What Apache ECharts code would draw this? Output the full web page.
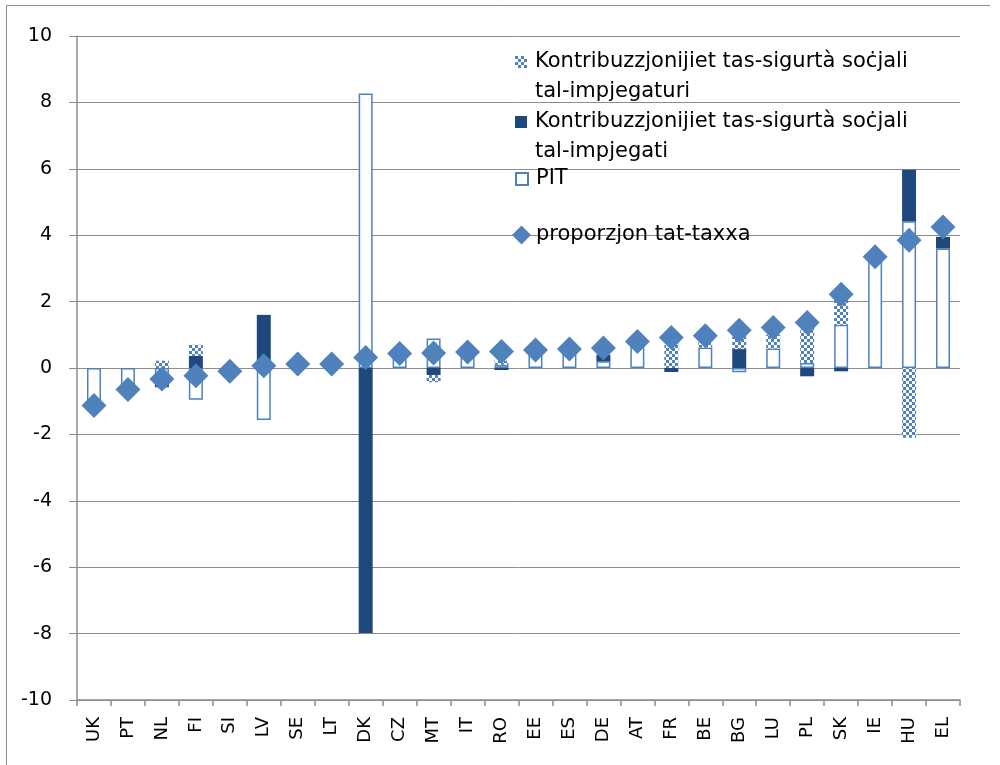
<!DOCTYPE html>
<html lang="mt">

<head>
    <meta charset="UTF-8">
    <title>Proporzjon tat-taxxa</title>
    <script src="https://cdn.jsdelivr.net/npm/echarts@6/dist/echarts.min.js"></script>
    <style>
        html, body { margin: 0; padding: 0; background: #fff; }
        #main { width: 1000px; height: 765px; }
    </style>
</head>

<body>
    <div id="main"></div>
    <script>
        // Data
        const categories = ['UK', 'PT', 'NL', 'FI', 'SI', 'LV', 'SE', 'LT', 'DK', 'CZ', 'MT', 'IT', 'RO',
            'EE', 'ES', 'DE', 'AT', 'FR', 'BE', 'BG', 'LU', 'PL', 'SK', 'IE', 'HU', 'EL'];
        const employerSSC = [0, 0, 0.22, 0.33, 0, 0, 0, 0, 0, 0, -0.22, 0, 0.12,
            0, 0, 0, 0, 0.85, 0.3, 0.38, 0.42, 1.15, 0.85, 0, -2.1, 0];
        const employeeSSC = [0, 0, -0.13, 0.37, 0, 1.6, 0, 0, -7.98, 0, -0.21, 0, -0.06,
            0, 0, 0.2, 0, -0.12, 0, 0.57, 0, -0.25, -0.1, 0, 1.55, 0.35];
        const pit = [-1.12, -0.63, -0.45, -0.96, -0.1, -1.57, 0.1, 0.1, 8.27, 0.4, 0.89, 0.45, 0.1,
            0.5, 0.5, 0.2, 0.75, 0, 0.62, -0.13, 0.59, 0.15, 1.3, 3.3, 4.42, 3.6];
        const taxRatio = [-1.13, -0.65, -0.33, -0.23, -0.1, 0.07, 0.12, 0.12, 0.32, 0.44, 0.45, 0.48, 0.5,
            0.54, 0.57, 0.6, 0.8, 0.92, 0.97, 1.14, 1.22, 1.37, 2.22, 3.35, 3.85, 4.25];

        const names = [
            'Kontribuzzjonijiet tas-sigurtà soċjali\ntal-impjegaturi',
            'Kontribuzzjonijiet tas-sigurtà soċjali\ntal-impjegati',
            'PIT',
            'proporzjon tat-taxxa'
        ];

        const blue = '#4F81BD';
        const navy = '#1F497D';
        const gridGrey = '#8C8C8C';

        // checkered fill for the employer contributions
        const tile = document.createElement('canvas');
        tile.width = 6;
        tile.height = 6;
        const ctx = tile.getContext('2d');
        ctx.fillStyle = '#ffffff';
        ctx.fillRect(0, 0, 6, 6);
        ctx.fillStyle = blue;
        ctx.fillRect(0, 0, 3, 3);
        ctx.fillRect(3, 3, 3, 3);
        const checkered = { image: tile, repeat: 'repeat' };

        const chart = echarts.init(document.getElementById('main'));

        const legendText = { fontFamily: 'DejaVu Sans', fontSize: 21, color: '#000', lineHeight: 30, padding: [0, 0, 0, 3] };
        // an empty first line keeps the icon level with the first line of a two-line name
        const twoLine = name => '\n' + name;

        const option = {
            animation: false,
            textStyle: { fontFamily: 'DejaVu Sans' },
            graphic: [
                { type: 'line', shape: { x1: 6.5, y1: 5.5, x2: 6.5, y2: 770 }, style: { stroke: gridGrey, lineWidth: 1 } },
                { type: 'line', shape: { x1: 6.5, y1: 5.5, x2: 990, y2: 5.5 }, style: { stroke: gridGrey, lineWidth: 1 } }
            ],
            legend: [
                {
                    data: [names[0]], left: 515, top: 17, padding: 0, itemWidth: 12, itemHeight: 12,
                    icon: 'rect', selectedMode: false, formatter: twoLine, textStyle: legendText
                },
                {
                    data: [names[1]], left: 515, top: 77, padding: 0, itemWidth: 12, itemHeight: 12,
                    icon: 'rect', selectedMode: false, formatter: twoLine, textStyle: legendText
                },
                {
                    data: [names[2]], left: 515, top: 164, padding: 0, itemWidth: 12, itemHeight: 12,
                    icon: 'rect', selectedMode: false, textStyle: legendText
                },
                {
                    data: [names[3]], left: 512, top: 220, padding: 0, itemWidth: 19, itemHeight: 19,
                    selectedMode: false, textStyle: Object.assign({}, legendText, { padding: 0 })
                }
            ],
            grid: { left: 77, right: 40, top: 36, bottom: 65 },
            xAxis: [
                {
                    type: 'category',
                    data: categories,
                    axisLine: { show: false },
                    axisTick: { show: false },
                    axisLabel: {
                        rotate: 90, fontSize: 18, color: '#000', margin: 17,
                        fontFamily: 'DejaVu Sans', interval: 0
                    }
                },
                {
                    type: 'category',
                    data: categories,
                    position: 'bottom',
                    axisLine: { onZero: true, lineStyle: { color: gridGrey, width: 1.5 } },
                    axisTick: { show: true, length: 6, interval: 0, lineStyle: { color: gridGrey, width: 1.5 } },
                    axisLabel: { show: false }
                }
            ],
            yAxis: {
                type: 'value',
                min: -10,
                max: 10,
                interval: 2,
                axisLine: { show: true, lineStyle: { color: gridGrey, width: 1.5 } },
                axisTick: { show: true, length: 8, lineStyle: { color: gridGrey } },
                axisLabel: { fontSize: 19, color: '#000', margin: 25, fontFamily: 'DejaVu Sans' },
                splitLine: { lineStyle: { color: gridGrey, width: 1 } }
            },
            series: [
                {
                    name: names[2],
                    type: 'bar',
                    stack: 'tax',
                    barWidth: 14,
                    data: pit,
                    itemStyle: { color: '#ffffff', borderColor: blue, borderWidth: 1.5 }
                },
                {
                    name: names[1],
                    type: 'bar',
                    stack: 'tax',
                    barWidth: 14,
                    data: employeeSSC,
                    itemStyle: { color: navy }
                },
                {
                    name: names[0],
                    type: 'bar',
                    stack: 'tax',
                    barWidth: 14,
                    data: employerSSC,
                    itemStyle: { color: checkered }
                },
                {
                    name: names[3],
                    type: 'scatter',
                    symbol: 'diamond',
                    symbolSize: 25,
                    data: taxRatio,
                    z: 5,
                    itemStyle: { color: blue, opacity: 1 }
                }
            ]
        };

        chart.setOption(option);
    </script>
</body>

</html>
